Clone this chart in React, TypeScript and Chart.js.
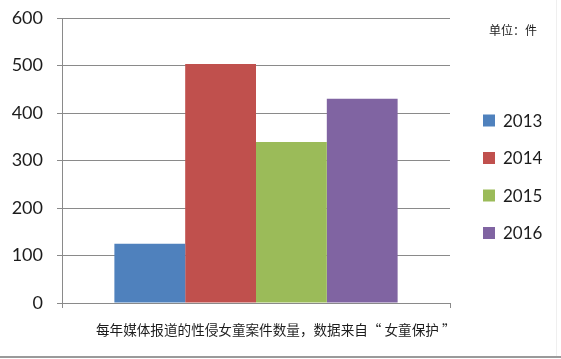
import React, { useEffect, useRef } from "react";
import { Chart, registerables } from "chart.js";

Chart.register(...registerables);

// Reported cases of child sexual abuse against girls, by year
const years = ["2013", "2014", "2015", "2016"];
const cases = [125, 503, 339, 430];
const colors = ["#4F81BD", "#C0504D", "#9BBB59", "#8064A2"];
const groupLabels = [""];
const yMin = 0;
const yMax = 600;
const yStep = 100;
const unitText = "单位：件";
const captionText = "每年媒体报道的性侵女童案件数量，数据来自“ 女童保护 ”";

const W = 561;
const H = 359;
const GRID = "#8a8a8a";
const TEXT = "#1c1c1c";

const overlayPlugin = {
  id: "overlayText",
  afterDraw(chart: any) {
    const ctx = chart.ctx as CanvasRenderingContext2D;
    ctx.save();
    // legend
    ctx.textBaseline = "middle";
    ctx.textAlign = "left";
    ctx.font = "17px Lato, 'Open Sans', sans-serif";
    chart.data.datasets.forEach((ds: any, i: number) => {
      const cy = 120.5 + i * 37.5;
      ctx.fillStyle = ds.backgroundColor;
      ctx.fillRect(483, cy - 6, 12, 12);
      ctx.fillStyle = TEXT;
      ctx.fillText(ds.label, 503, cy + 1);
    });
    // unit
    ctx.font = "12px 'Noto Sans CJK SC', sans-serif";
    ctx.fillStyle = TEXT;
    ctx.fillText(unitText, 489, 30);
    // caption
    ctx.font = "13.6px 'Noto Sans CJK SC', sans-serif";
    ctx.fillText(captionText, 96, 330);
    // frame edges
    ctx.fillStyle = "#9a9a9a";
    ctx.fillRect(0, 356, W, 2);
    ctx.fillStyle = "#efefef";
    ctx.fillRect(556, 0, 1, 356);
    ctx.restore();
  },
};

export default function App() {
  const ref = useRef<HTMLCanvasElement | null>(null);

  useEffect(() => {
    document.body.style.margin = "0";
    document.body.style.background = "#ffffff";
    if (!ref.current) return;
    const chart = new Chart(ref.current, {
      type: "bar",
      data: {
        labels: groupLabels,
        datasets: years.map((y, i) => ({
          label: y,
          data: [cases[i]],
          backgroundColor: colors[i],
          borderWidth: 0,
          categoryPercentage: 0.73,
          barPercentage: 1.0,
        })),
      },
      options: {
        responsive: false,
        devicePixelRatio: 1,
        animation: false,
        layout: { padding: { left: 0, right: 111, top: 18, bottom: 0 } },
        plugins: {
          legend: { display: false },
          tooltip: { enabled: false },
        },
        scales: {
          x: {
            grid: {
              display: true,
              drawOnChartArea: false,
              drawTicks: true,
              tickLength: 5,
              color: GRID,
              offset: true,
            },
            border: { display: true, color: GRID, width: 1 },
            ticks: { display: false },
            afterFit: (s: any) => {
              s.height = 56;
            },
          },
          y: {
            min: yMin,
            max: yMax,
            ticks: {
              stepSize: yStep,
              color: TEXT,
              padding: 14,
              font: { family: "Lato, 'Open Sans', sans-serif", size: 18 },
            },
            grid: { color: GRID, lineWidth: 1, tickLength: 5 },
            border: { display: true, color: GRID, width: 1 },
            afterFit: (s: any) => {
              s.width = 62;
              s.paddingTop = 0;
              s.paddingBottom = 0;
            },
          },
        },
      },
      plugins: [overlayPlugin],
    });
    return () => chart.destroy();
  }, []);

  return (
    <div style={{ width: W, height: H, position: "relative", background: "#fff" }}>
      <canvas ref={ref} width={W} height={H} style={{ display: "block" }} />
    </div>
  );
}
